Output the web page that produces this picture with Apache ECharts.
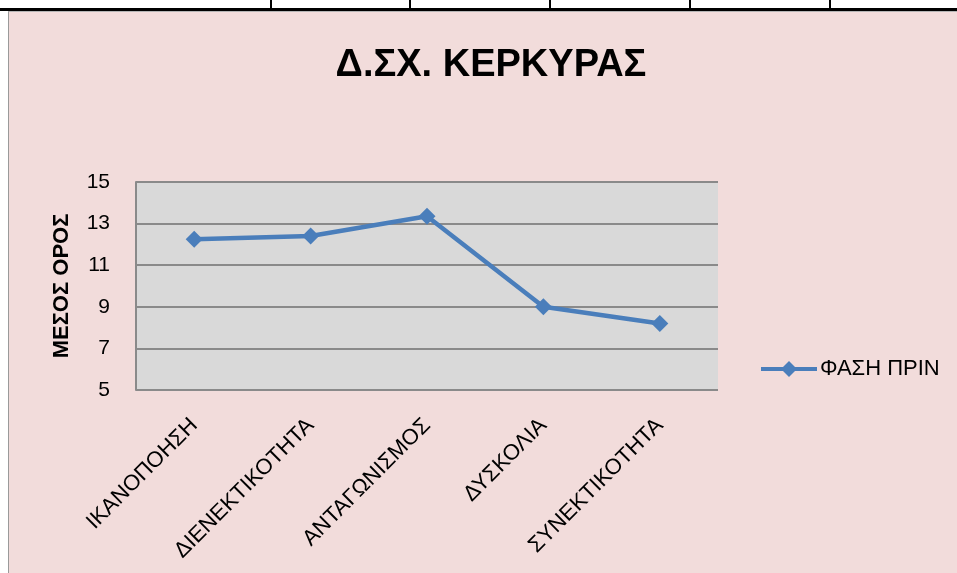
<!DOCTYPE html>
<html>
<head>
<meta charset="utf-8">
<script src="https://cdn.jsdelivr.net/npm/echarts@6/dist/echarts.min.js"></script>
<style>
  html, body { margin: 0; padding: 0; background: #fff; width: 957px; height: 573px; overflow: hidden; }
  .rule { position: absolute; left: 0; top: 8px; width: 957px; height: 3px; background: #000; }
  .cell { position: absolute; top: 0; width: 2px; height: 9px; background: #000; }
  #chart {
    position: absolute; left: 8px; top: 11px; width: 948px; height: 562px;
    background: #f2dcdb; border-left: 1px solid #9a9a9a; border-top: 1px solid #b5b5b5;
  }
</style>
</head>
<body>
<div class="rule"></div>
<div class="cell" style="left:270px"></div>
<div class="cell" style="left:409px"></div>
<div class="cell" style="left:549px"></div>
<div class="cell" style="left:689px"></div>
<div class="cell" style="left:829px"></div>
<div id="chart"></div>
<script>
const categories = ['ΙΚΑΝΟΠΟΗΣΗ', 'ΔΙΕΝΕΚΤΙΚΟΤΗΤΑ', 'ΑΝΤΑΓΩΝΙΣΜΟΣ', 'ΔΥΣΚΟΛΙΑ', 'ΣΥΝΕΚΤΙΚΟΤΗΤΑ']
const faseiPrin = [12.25, 12.4, 13.35, 9.0, 8.2]
const yTicks = { min: 5, max: 15, interval: 2 }

const chartIns = echarts.init(document.getElementById('chart'))
const font = '"Liberation Sans", "Noto Sans", sans-serif'

chartIns.setOption({
  backgroundColor: 'transparent',
  textStyle: { fontFamily: font },
  title: {
    text: 'Δ.ΣΧ. ΚΕΡΚΥΡΑΣ',
    left: 477,
    textAlign: 'center',
    top: 30,
    textStyle: { fontSize: 38, fontWeight: 'bold', color: '#000', fontFamily: font }
  },
  legend: {
    left: 745,
    top: 341,
    itemWidth: 56,
    itemHeight: 20,
    itemGap: 4,
    lineStyle: { width: 4 },
    textStyle: { fontSize: 22, color: '#000', fontFamily: font, padding: [0, 0, 0, -2] },
    data: ['ΦΑΣΗ ΠΡΙΝ']
  },
  grid: {
    left: 127,
    top: 170,
    width: 582,
    height: 208,
    show: true,
    backgroundColor: '#d9d9d9',
    borderWidth: 0
  },
  xAxis: {
    type: 'category',
    data: categories,
    boundaryGap: true,
    axisLine: { show: false },
    axisTick: { show: false },
    axisLabel: { rotate: 45, fontSize: 22, color: '#000', margin: 32, fontFamily: font, interval: 0 }
  },
  yAxis: {
    type: 'value',
    min: yTicks.min,
    max: yTicks.max,
    interval: yTicks.interval,
    name: 'ΜΕΣΟΣ ΟΡΟΣ',
    nameLocation: 'middle',
    nameRotate: 90,
    nameGap: 63,
    nameTextStyle: { fontSize: 22, fontWeight: 'bold', color: '#000', fontFamily: font },
    axisLine: { show: true, lineStyle: { color: '#8a8a8a', width: 2 } },
    axisTick: { show: false },
    axisLabel: { fontSize: 21, color: '#000', margin: 26, fontFamily: font },
    splitLine: { lineStyle: { color: '#8a8a8a', width: 2 } }
  },
  series: [
    {
      name: 'ΦΑΣΗ ΠΡΙΝ',
      type: 'line',
      data: faseiPrin,
      symbol: 'diamond',
      symbolSize: 17,
      lineStyle: { color: '#4a7ebb', width: 4.5 },
      itemStyle: { color: '#4a7ebb' }
    }
  ]
})
</script>
</body>
</html>
